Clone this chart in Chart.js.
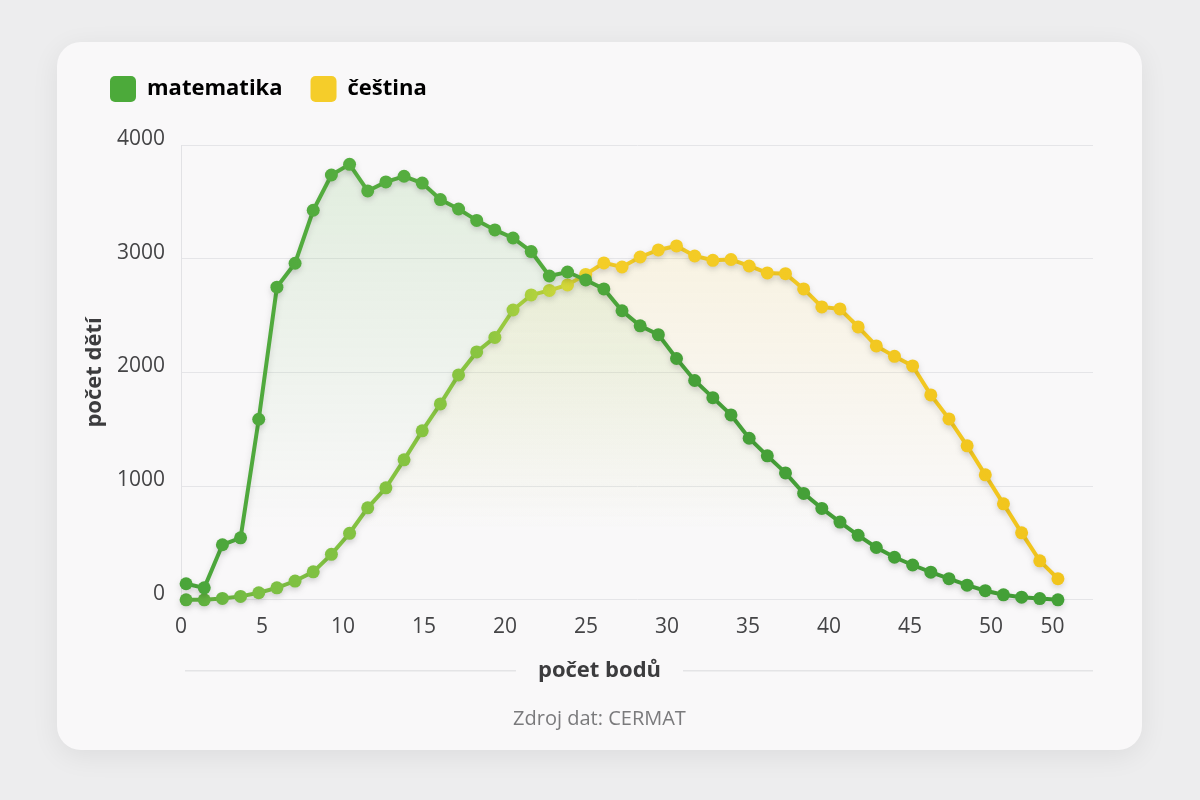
<!DOCTYPE html>
<html lang="cs">
<head>
<meta charset="utf-8">
<title>Počet bodů – matematika a čeština</title>
<script src="https://cdn.jsdelivr.net/npm/chart.js@4"></script>
<style>
  html, body { margin: 0; padding: 0; background: #ededee; }
  body { width: 1200px; height: 800px; position: relative; font-family: "Open Sans", sans-serif; }
  .card {
    position: absolute; left: 57px; top: 42px; width: 1085px; height: 708px;
    background: #f9f8f9; border-radius: 24px;
    box-shadow: 0 6px 28px rgba(0, 0, 0, 0.07);
  }
  .card canvas { position: absolute; left: 0; top: 0; }
</style>
</head>
<body>
<div class="card">
  <canvas id="vysledky" width="1085" height="708"></canvas>
</div>
<script>
// body (index bodu na ose), hodnoty čtené z obrázku
const bodyIdx = [0,1,2,3,4,5,6,7,8,9,10,11,12,13,14,15,16,17,18,19,20,21,22,23,24,
  25,26,27,28,29,30,31,32,33,34,35,36,37,38,39,40,41,42,43,44,45,46,47,48];

const matematika = [141, 105, 484, 545, 1588, 2750, 2960, 3426, 3736, 3830, 3596, 3675,
  3725, 3665, 3520, 3437, 3337, 3253, 3182, 3063, 2848, 2883, 2813, 2734, 2542, 2410,
  2332, 2122, 1929, 1778, 1626, 1421, 1266, 1116, 936, 804, 684, 567, 460, 374, 306,
  243, 186, 129, 80, 44, 23, 11, 0];

const cestina = [0, 0, 12, 30, 62, 105, 165, 246, 400, 585, 809, 985, 1231, 1486, 1723,
  1978, 2180, 2308, 2549, 2681, 2721, 2769, 2862, 2963, 2927, 3015, 3077, 3112, 3024,
  2986, 2993, 2936, 2875, 2868, 2734, 2576, 2558, 2400, 2233, 2141, 2057, 1802, 1591,
  1354, 1099, 844, 589, 343, 185];

const seriesNames = ['matematika', 'čeština'];
const legendColors = ['#4caa3a', '#f5cd2a'];

// popisky osy x tak, jak jsou v obrázku
const xTickValues = [0, 5, 10, 15, 20, 25, 30, 35, 40, 45, 50, 53.8];
const xTickLabels = ['0', '5', '10', '15', '20', '25', '30', '35', '40', '45', '50', '50'];

const xTitle = 'počet bodů';
const sourceText = 'Zdroj dat: CERMAT';
const textColor = '#3c3c3e';
const gridColor = '#e5e5e8';

function hGradient(chart, stops) {
  const { ctx, chartArea } = chart;
  if (!chartArea) return null;
  const g = ctx.createLinearGradient(chartArea.left, 0, chartArea.right, 0);
  stops.forEach(s => g.addColorStop(s[0], s[1]));
  return g;
}

function vGradient(chart, top, bottom) {
  const { ctx, chartArea } = chart;
  if (!chartArea) return null;
  const g = ctx.createLinearGradient(0, chartArea.top, 0, chartArea.bottom);
  g.addColorStop(0, top);
  g.addColorStop(0.85, bottom);
  return g;
}

const mathStops = [[0, '#4aa53a'], [0.2, '#56ae40'], [0.4, '#52ab3d'], [0.55, '#46a038'], [1, '#43a037']];
const cestStops = [[0, '#55ab3d'], [0.08, '#7bbf43'], [0.33, '#8cc63f'], [0.39, '#b9d53b'],
  [0.42, '#dedb36'], [0.455, '#f4cd27'], [1, '#f1c41c']];

// víc místa pod legendou
const legendSpacer = {
  id: 'legendSpacer',
  beforeInit(chart) {
    const fit = chart.legend.fit;
    chart.legend.fit = function () {
      fit.call(this);
      this.height += 33;
    };
  }
};

// jemný stín pod čarami
const lineShadow = {
  id: 'lineShadow',
  beforeDatasetDraw(chart) {
    const ctx = chart.ctx;
    ctx.save();
    ctx.shadowColor = 'rgba(0,0,0,0.13)';
    ctx.shadowBlur = 6;
    ctx.shadowOffsetY = 3;
  },
  afterDatasetDraw(chart) {
    chart.ctx.restore();
  }
};

// nadpis osy x a zdroj uprostřed karty, linky po stranách nadpisu
const bottomTexts = {
  id: 'bottomTexts',
  afterDraw(chart) {
    const ctx = chart.ctx;
    const area = chart.chartArea;
    const cx = chart.width / 2;
    const yTitle = area.bottom + 71;
    const ySource = area.bottom + 119;
    ctx.save();
    ctx.textAlign = 'center';
    ctx.textBaseline = 'middle';
    ctx.font = 'bold 22px "Open Sans"';
    const w = ctx.measureText(xTitle).width;
    ctx.fillStyle = textColor;
    ctx.fillText(xTitle, cx, yTitle);
    ctx.strokeStyle = '#e4e4e6';
    ctx.lineWidth = 1.5;
    ctx.beginPath();
    ctx.moveTo(area.left + 4, yTitle);
    ctx.lineTo(cx - w / 2 - 22, yTitle);
    ctx.moveTo(cx + w / 2 + 22, yTitle);
    ctx.lineTo(area.right, yTitle);
    ctx.stroke();
    ctx.font = '20px "Open Sans"';
    ctx.fillStyle = '#7a7a7c';
    ctx.fillText(sourceText, cx, ySource);
    ctx.restore();
  }
};

new Chart(document.getElementById('vysledky'), {
  type: 'line',
  data: {
    datasets: [{
      label: seriesNames[0],
      data: bodyIdx.map((b, i) => ({ x: b, y: matematika[i] })),
      borderColor: c => hGradient(c.chart, mathStops),
      pointBackgroundColor: c => hGradient(c.chart, mathStops),
      backgroundColor: c => vGradient(c.chart, 'rgba(100,180,80,0.16)', 'rgba(100,180,80,0)'),
      fill: 'origin',
      borderWidth: 4,
      pointRadius: 6.5,
      pointBorderWidth: 0,
      tension: 0,
      clip: false
    }, {
      label: seriesNames[1],
      data: bodyIdx.map((b, i) => ({ x: b, y: cestina[i] })),
      borderColor: c => hGradient(c.chart, cestStops),
      pointBackgroundColor: c => hGradient(c.chart, cestStops),
      backgroundColor: c => vGradient(c.chart, 'rgba(245,205,42,0.15)', 'rgba(245,205,42,0)'),
      fill: 'origin',
      borderWidth: 4,
      pointRadius: 6.5,
      pointBorderWidth: 0,
      tension: 0,
      clip: false
    }]
  },
  options: {
    responsive: false,
    animation: false,
    layout: { padding: { left: 25, right: 49, top: 6, bottom: 103 } },
    scales: {
      x: {
        type: 'linear',
        display: false,
        min: -0.28,
        max: 49.93
      },
      x2: {
        type: 'linear',
        position: 'bottom',
        min: 0,
        max: 56.3,
        grid: { display: false },
        border: { display: false },
        afterBuildTicks: axis => { axis.ticks = xTickValues.map(v => ({ value: v })); },
        ticks: {
          autoSkip: false,
          maxRotation: 0,
          padding: 7,
          color: '#444446',
          font: { family: 'Open Sans', size: 21 },
          callback: (v, i) => xTickLabels[i]
        }
      },
      y: {
        min: 0,
        max: 4000,
        afterFit: scale => { scale.width = 99; },
        grid: { color: gridColor, drawTicks: false },
        border: { display: true, color: '#e2e2e5' },
        ticks: {
          stepSize: 1000,
          padding: 16,
          labelOffset: -6,
          color: '#444446',
          font: { family: 'Open Sans', size: 21 },
          callback: v => String(v)
        },
        title: {
          display: true,
          text: 'počet dětí',
          color: textColor,
          font: { family: 'Open Sans', size: 22, weight: 'bold' },
          padding: { top: 0, bottom: 0 }
        }
      }
    },
    plugins: {
      legend: {
        position: 'top',
        align: 'start',
        labels: {
          boxWidth: 26,
          boxHeight: 26,
          padding: 28,
          useBorderRadius: true,
          borderRadius: 5,
          color: textColor,
          font: { family: 'Open Sans', size: 22, weight: 'bold' },
          generateLabels: chart => chart.data.datasets.map((ds, i) => ({
            text: ds.label,
            fillStyle: legendColors[i],
            strokeStyle: legendColors[i],
            lineWidth: 0,
            borderRadius: 5,
            datasetIndex: i,
            hidden: false
          }))
        }
      },
      tooltip: { enabled: false }
    }
  },
  plugins: [legendSpacer, lineShadow, bottomTexts]
});
</script>
</body>
</html>
